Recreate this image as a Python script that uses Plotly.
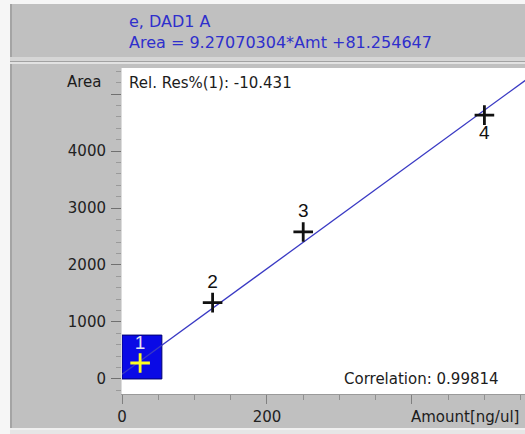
"""Calibration curve (DAD1 A) — Plotly recreation of a ChemStation-style plot."""

import plotly.graph_objects as go

# calibration points
LEVEL = ["1", "2", "3", "4"]
AMOUNT = [25, 125, 250, 500]          # ng/ul
AREA = [280, 1340, 2580, 4630]

# linear fit line end points (Area = 9.27070304*Amt + 81.254647)
FIT_AMOUNT = [0, 560]
FIT_AREA = [81.25, 5272.4]

# highlighted (selected) level 1 box
SEL_AMOUNT = [0, 55]
SEL_AREA = [0, 770]

Y_TICKS = [0, 1000, 2000, 3000, 4000, 5000]
Y_TEXT = ["0", "1000", "2000", "3000", "4000", ""]
X_TICKS = [0, 200, 400]
X_TEXT = ["0", "200", ""]

W, H = 525, 434
L, R, T, B = 122, 0, 68, 40
PW, PH = W - L - R, H - T - B

PANEL = "#c0c0c0"
BLUE_TXT = "#2f2fcc"
FONT = "DejaVu Sans"


def px(x):
    return (x - L) / PW


def py(y):
    return (H - B - y) / PH


fig = go.Figure()

fig.add_trace(
    go.Scatter(
        x=FIT_AMOUNT,
        y=FIT_AREA,
        mode="lines",
        line=dict(color="#3a3ac4", width=1.3),
        hoverinfo="skip",
        showlegend=False,
    )
)

fig.add_trace(
    go.Scatter(
        x=AMOUNT,
        y=AREA,
        mode="markers+text",
        text=LEVEL,
        textposition=["top center", "top center", "top center", "bottom center"],
        textfont=dict(
            family="Liberation Sans Narrow, Liberation Sans",
            size=19,
            color=["#e4e4ee", "#111111", "#111111", "#111111"],
        ),
        marker=dict(
            symbol="cross-thin",
            size=14,
            line=dict(width=2.8, color=["#ffff20", "#111111", "#111111", "#111111"]),
        ),
        showlegend=False,
    )
)

shapes = [
    # selected level box
    dict(type="rect", xref="x", yref="y",
         x0=SEL_AMOUNT[0], x1=SEL_AMOUNT[1], y0=SEL_AREA[0], y1=SEL_AREA[1],
         fillcolor="#0a0ae6", line=dict(color="#000070", width=1), layer="below"),
    # outer frame: white strips
    dict(type="rect", xref="paper", yref="paper", x0=px(0), x1=px(10), y0=py(434), y1=py(0),
         fillcolor="#f6f6f6", line_width=0, layer="below"),
    dict(type="rect", xref="paper", yref="paper", x0=px(10), x1=px(525), y0=py(4), y1=py(0),
         fillcolor="#f6f6f6", line_width=0, layer="below"),
    dict(type="rect", xref="paper", yref="paper", x0=px(10), x1=px(12), y0=py(428), y1=py(4),
         fillcolor="#a4a4a4", line_width=0, layer="below"),
    # separator between title band and plot panel
    dict(type="rect", xref="paper", yref="paper", x0=px(10), x1=px(525), y0=py(61), y1=py(57),
         fillcolor="#d6d6d6", line_width=0, layer="below"),
    dict(type="rect", xref="paper", yref="paper", x0=px(10), x1=px(525), y0=py(62), y1=py(61),
         fillcolor="#a2a2a2", line_width=0, layer="below"),
    dict(type="rect", xref="paper", yref="paper", x0=px(10), x1=px(525), y0=py(64), y1=py(62),
         fillcolor="#e2e2e2", line_width=0, layer="below"),
    # bottom edge
    dict(type="rect", xref="paper", yref="paper", x0=px(10), x1=px(525), y0=py(430), y1=py(428),
         fillcolor="#f0f0f0", line_width=0, layer="below"),
    dict(type="rect", xref="paper", yref="paper", x0=px(10), x1=px(525), y0=py(434), y1=py(430),
         fillcolor="#e6e6e6", line_width=0, layer="below"),
]

txt = dict(family=FONT, size=15, color="#1c1c1c")
annotations = [
    dict(text="e, DAD1 A", x=px(127), y=py(22), xanchor="left", yanchor="middle",
         font=dict(family=FONT, size=16, color=BLUE_TXT)),
    dict(text="Area = 9.27070304*Amt +81.254647", x=px(127), y=py(42),
         xanchor="left", yanchor="middle", font=dict(family=FONT, size=16, color=BLUE_TXT)),
    dict(text="Rel. Res%(1): -10.431", x=px(127), y=py(83), xanchor="left",
         yanchor="middle", font=txt),
    dict(text="Correlation: 0.99814", x=px(501), y=py(379), xanchor="right",
         yanchor="middle", font=txt),
    dict(text="Area", x=px(104), y=py(82), xanchor="right", yanchor="middle", font=txt),
    dict(text="Amount[ng/ul]", x=px(521), y=py(417), xanchor="right", yanchor="middle",
         font=txt),
]
for a in annotations:
    a.update(xref="paper", yref="paper", showarrow=False)

fig.update_layout(
    width=W,
    height=H,
    margin=dict(l=L, r=R, t=T, b=B),
    paper_bgcolor=PANEL,
    plot_bgcolor="white",
    font=dict(family=FONT, size=15, color="#222222"),
    shapes=shapes,
    annotations=annotations,
    xaxis=dict(
        range=[0, 556],
        tickmode="array",
        tickvals=X_TICKS,
        ticktext=X_TEXT,
        ticks="outside",
        ticklen=9,
        tickcolor="#808080",
        minor=dict(tick0=0, dtick=50, ticks="outside", ticklen=5, tickcolor="#909090"),
        showgrid=False,
        zeroline=False,
        showline=True,
        linecolor="#9a9a9a",
        linewidth=1,
    ),
    yaxis=dict(
        range=[-264, 5457],
        tickmode="array",
        tickvals=Y_TICKS,
        ticktext=Y_TEXT,
        ticks="outside",
        ticklen=10,
        tickcolor="#707070",
        ticklabelstandoff=2,
        minor=dict(tick0=0, dtick=200, ticks="outside", ticklen=5, tickcolor="#9a9a9a"),
        showgrid=False,
        zeroline=False,
        showline=True,
        linecolor="#dcdcdc",
        linewidth=1,
    ),
)

# page body has an 8px default margin; drop it so the figure fills the window
fig.write_html(
    "out.html",
    config={"displayModeBar": False},
    post_script="document.body.style.margin='0';",
)
